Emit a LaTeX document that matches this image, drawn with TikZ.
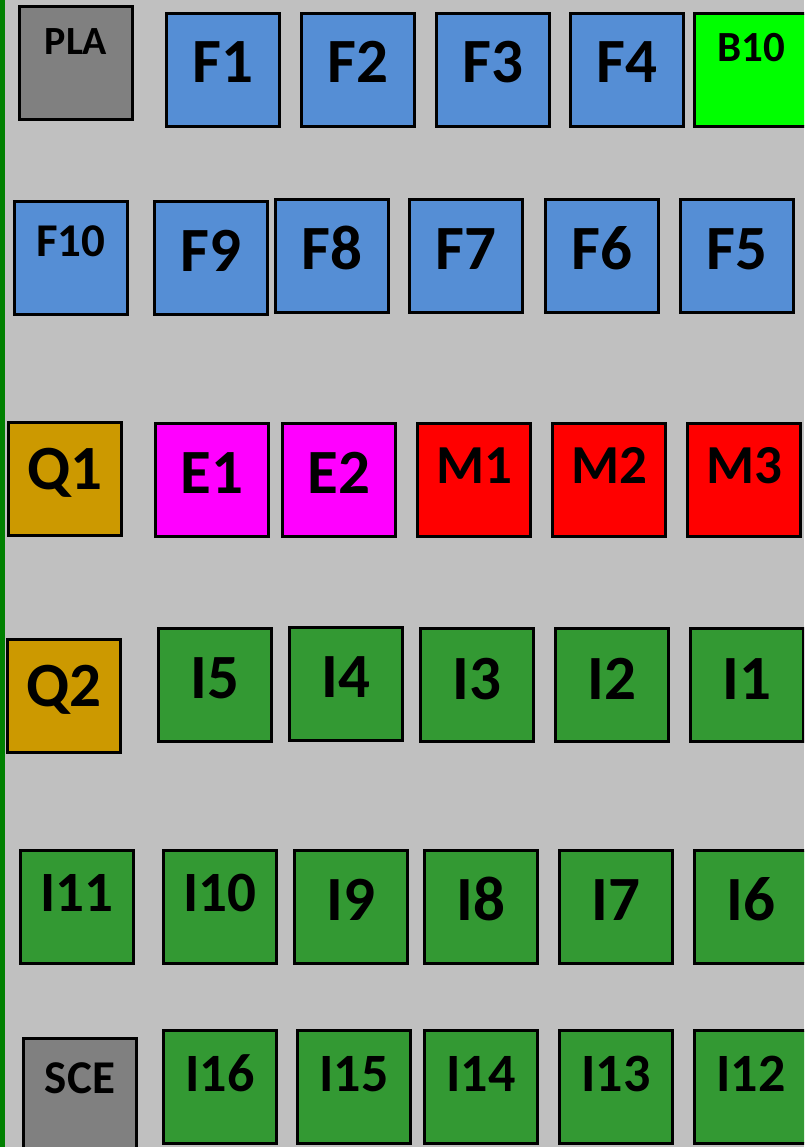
\documentclass[tikz,border=0pt]{standalone}
\usepackage{fontspec}
\setmainfont{Carlito}
\usepackage{tikz}
\usetikzlibrary{positioning}
\definecolor{bgGray}{RGB}{192,192,192}
\definecolor{edgeGreen}{RGB}{0,128,0}
\definecolor{plaGray}{RGB}{128,128,128}
\definecolor{fBlue}{RGB}{85,142,213}
\definecolor{bLime}{RGB}{0,255,0}
\definecolor{qGold}{RGB}{204,153,0}
\definecolor{eMagenta}{RGB}{255,0,255}
\definecolor{mRed}{RGB}{255,0,0}
\definecolor{iGreen}{RGB}{51,153,51}

\begin{document}
\begin{tikzpicture}[x=1pt, y=-1pt,
  cell/.style={draw=black, line width=3.4pt, minimum width=112.5pt, minimum height=112.5pt, inner sep=0pt, font=\bfseries},
  tag/.style 2 args={font=\fontsize{#1}{#1}\selectfont\bfseries, text height=#2pt},
  bigtag/.style={tag={63}{40}},
]

% ===================================================================
% Background and left edge
% ===================================================================
\useasboundingbox (0,0) rectangle (804,1147);
\clip (0,0) rectangle (804,1147);
\fill[bgGray] (0,0) rectangle (804,1147);
\fill[edgeGreen] (0,0) rectangle (4.5,1147);

% ===================================================================
% ROW 1
% ===================================================================
\node[cell, fill=plaGray, tag={40}{25}, text depth=41pt] (PLA) at (76,63) {PLA};
\foreach \n/\x in {1/223, 2/358, 3/493, 4/627} {
  \node[cell, fill=fBlue, bigtag, text depth=14pt] (F\n) at (\x,70) {F\n};
}
\node[cell, fill=bLime, tag={43}{27}, text depth=43pt] (B10) at (751,70) {B10};

% ===================================================================
% ROW 2
% ===================================================================
\node[cell, fill=fBlue, tag={47}{30}, text depth=32pt] (F10) at (71,258) {F10};
\node[cell, fill=fBlue, bigtag, text depth=12pt] (F9) at (211,258) {F9};
\foreach \n/\x in {8/332, 7/466, 6/602, 5/737} {
  \node[cell, fill=fBlue, bigtag, text depth=12pt] (F\n) at (\x,256) {F\n};
}

% ===================================================================
% ROW 3
% ===================================================================
\node[cell, fill=qGold, bigtag, text depth=20pt] (Q1) at (65,479) {Q1};
\node[cell, fill=eMagenta, bigtag, text depth=14pt] (E1) at (212,480) {E1};
\node[cell, fill=eMagenta, bigtag, text depth=14pt] (E2) at (339,480) {E2};
\foreach \n/\x in {1/474, 2/609, 3/744} {
  \node[cell, fill=mRed, tag={55}{35}, text depth=28pt] (M\n) at (\x,480) {M\n};
}

% ===================================================================
% ROW 4
% ===================================================================
\node[cell, fill=qGold, bigtag, text depth=20pt] (Q2) at (64,696) {Q2};
\node[cell, fill=iGreen, bigtag, text depth=14pt] (I5) at (215,685) {I5};
\node[cell, fill=iGreen, bigtag, text depth=13pt] (I4) at (346,684) {I4};
\foreach \n/\x in {3/477, 2/612, 1/747} {
  \node[cell, fill=iGreen, bigtag, text depth=12pt] (I\n) at (\x,685) {I\n};
}

% ===================================================================
% ROW 5
% ===================================================================
\foreach \n/\x in {11/77, 10/220} {
  \node[cell, fill=iGreen, tag={57}{36}, text depth=28pt] (I\n) at (\x,907) {I\n};
}
\foreach \n/\x in {9/351, 8/481, 7/616, 6/751} {
  \node[cell, fill=iGreen, bigtag, text depth=13pt] (I\n) at (\x,907) {I\n};
}

% ===================================================================
% ROW 6
% ===================================================================
\node[cell, fill=plaGray, tag={47}{30}, text depth=34pt] (SCE) at (80,1095) {SCE};
\foreach \n/\x in {16/220, 15/354, 14/481, 13/616, 12/751} {
  \node[cell, fill=iGreen, tag={54}{34}, text depth=26pt] (I\n) at (\x,1087) {I\n};
}

\end{tikzpicture}
\end{document}
